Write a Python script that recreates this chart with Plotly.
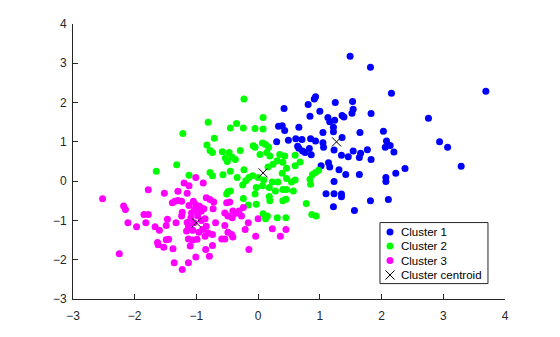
import plotly.graph_objects as go

c1_x = [1.49, 1.82, 2.16, 3.69, 0.93, 0.91, 1.25, 1.53, 1.54, 1.52, 0.42, 0.81, 1.0, 0.84, 1.13, 1.16, 1.24, 1.22, 1.22, 1.36,
        1.39, 1.83, 2.76, 0.33, 0.39, 0.43, 0.66, 1.05, 1.65, 2.03, 0.30, 0.49, 0.61, 0.71, 0.85, 0.93, 1.05, 1.36, 2.08, 2.94,
        3.07, 0.64, 0.66, 0.72, 0.76, 0.83, 0.86, 1.06, 1.23, 1.35, 1.46, 1.54, 1.64, 1.66, 1.77, 1.83, 2.06, 2.14, 2.20, 3.29,
        1.02, 1.14, 1.16, 1.31, 1.42, 1.64, 2.07, 2.07, 2.23, 2.38, 1.23, 1.10, 1.23, 1.35, 1.35, 1.82, 2.11, 1.22, 1.56]
c1_y = [3.18, 2.90, 2.24, 2.29, 2.15, 2.09, 2.00, 2.03, 1.83, 1.73, 1.85, 1.95, 1.78, 1.65, 1.62, 1.51, 1.55, 1.37, 1.26, 1.67,
        1.63, 1.72, 1.60, 1.40, 1.41, 1.29, 1.37, 1.24, 1.24, 1.27, 1.00, 1.04, 1.08, 1.06, 1.08, 1.02, 0.98, 1.11, 1.02, 1.00,
        0.86, 0.89, 0.84, 0.77, 0.73, 0.83, 0.67, 0.86, 0.79, 0.66, 0.62, 0.77, 0.60, 0.71, 0.80, 0.55, 0.86, 0.91, 0.74, 0.38,
        0.39, 0.47, 0.36, 0.29, 0.17, 0.17, 0.09, -0.01, 0.20, 0.32, -0.01, -0.32, -0.32, -0.33, -0.40, -0.50, -0.47, -0.65, -0.75]

c2_x = [-0.23, 0.08, -0.81, -0.35, -0.45, -0.24, -0.05, 0.08, -1.22, -0.71, -0.83, -0.78, -0.74, -0.58, -0.47, -0.53, -0.50,
        -0.42, -0.37, -0.29, -0.08, -0.05, 0.07, 0.12, 0.17, 0.14, 0.03, 0.19, 0.35, 0.43, 0.60, 0.31, 0.40, 0.24, 0.16, 0.46,
        0.60, 0.68, -1.32, -1.65, -1.12, -0.78, -0.74, -0.57, -0.45, -0.23, -0.34, -0.25, -0.15, -0.20, -0.09, 0.00, 0.09, 0.07,
        0.23, 0.32, 0.39, 0.46, 0.54, 0.60, 0.18, 0.28, 0.40, 0.46, 0.57, -0.03, -0.05, -0.03, -0.24, -0.16, -0.49, -0.45, -0.51,
        0.18, 0.19, 0.40, 0.45, 0.08, 0.15, 0.12, 0.31, 0.45, 0.78, 0.84, 0.85, 0.88, 0.93, 0.98, 0.87, 0.94]
c2_y = [2.09, 1.62, 1.50, 1.47, 1.35, 1.35, 1.34, 1.33, 1.21, 1.09, 0.92, 0.78, 0.73, 0.75, 0.73, 0.59, 0.50,
        0.61, 0.55, 0.78, 0.90, 0.86, 0.97, 0.93, 0.86, 0.73, 0.68, 0.64, 0.68, 0.64, 0.66, 0.52, 0.48, 0.43, 0.36, 0.33,
        0.39, 0.49, 0.42, 0.25, 0.15, 0.22, 0.14, 0.16, 0.25, 0.29, 0.09, -0.10, 0.09, 0.01, 0.14, 0.09, 0.03, -0.12,
        -0.02, -0.02, 0.20, 0.07, -0.02, 0.03, -0.16, -0.25, -0.21, -0.21, -0.25, -0.16, -0.33, -0.59, -0.44, -0.61, -0.27, -0.25, -0.33,
        -0.39, -0.50, -0.50, -0.46, -0.83, -0.89, -0.96, -0.93, -0.93, -0.57, 0.05, -0.08, 0.17, 0.22, 0.28, -0.85, -0.89]

c3_x = [-2.52, -1.78, -1.52, -1.20, -1.12, -1.01, -0.89, -1.30, -1.15, -2.18, -2.15, -2.11, -1.97, -2.25, -1.85, -1.78, -1.82,
        -1.67, -1.60, -1.63, -1.62, -1.53, -1.49, -1.45, -1.47, -1.49, -1.38, -1.36, -1.33, -1.39, -1.35, -1.30, -1.24, -1.23,
        -1.24, -1.23, -1.13, -1.13, -1.16, -1.13, -1.10, -1.06, -1.01, -0.99, -1.12, -1.05, -1.01, -0.95, -1.03, -0.97, -0.92,
        -1.08, -1.09, -1.04, -0.92, -0.86, -1.11, -0.84, -0.90, -0.86, -0.81, -0.74, -0.85, -0.79, -0.74, -0.84, -0.78, -0.72,
        -0.73, -0.69, -0.54, -0.51, -0.46, -0.49, -0.54, -0.49, -0.43, -0.59, -0.54, -0.41, -0.41, -0.36, -0.31, -0.27, -0.42,
        -0.24, -0.16, -0.21, -0.15, -0.04, 0.00, 0.23, 0.36, 0.45, -0.98, -1.06, -0.96, -1.15, -0.88]
c3_y = [-0.45, -0.22, -0.31, -0.05, -0.12, 0.09, -0.05, -0.26, -0.31, -0.63, -0.72, -1.06, -1.16, -1.85, -0.85, -0.85, -1.06,
        -1.16, -1.25, -1.56, -1.62, -1.68, -1.49, -1.48, -0.97, -1.13, -1.72, -2.08, -1.06, -0.55, -0.51, -0.49, -0.51, -0.79,
        -0.89, -2.25, -2.08, -1.47, -1.27, -1.16, -1.65, -1.50, -1.93, -1.48, -0.62, -0.51, -0.60, -0.64, -0.72, -0.79, -0.76,
        -0.81, -0.94, -1.06, -1.00, -0.96, -1.15, -1.15, -1.23, -1.40, -1.32, -1.36, -1.74, -1.91, -1.64, -0.42, -0.47, -0.53,
        -0.70, -1.06, -0.81, -0.55, -0.53, -0.89, -1.13, -1.30, -1.36, -1.47, -1.47, -1.42, -0.76, -0.82, -0.76, -0.89, -0.93,
        -0.67, -1.06, -1.23, -1.74, -1.40, -0.96, -1.21, -1.40, -1.23, -0.88, -1.25, -1.30, -1.05, -0.70]

centroid_x = [1.27, 0.08, -1.00]
centroid_y = [1.00, 0.21, -1.06]

names = ["Cluster 1", "Cluster 2", "Cluster 3"]
legend_labels = ["Cluster 1", "Cluster 2", "Cluster 3", "Cluster centroid"]
colors = ["#0000FF", "#00FF00", "#FF00FF"]

FONT = "Liberation Sans, Arial, sans-serif"
TXT = "#262626"

fig = go.Figure()
for xs, ys, nm, col in zip([c1_x, c2_x, c3_x], [c1_y, c2_y, c3_y], names, colors):
    fig.add_trace(go.Scatter(x=xs, y=ys, mode="markers", name=nm, showlegend=False,
                             marker=dict(color=col, size=7, line=dict(width=0))))
fig.add_trace(go.Scatter(x=centroid_x, y=centroid_y, mode="markers", name="Cluster centroid", showlegend=False,
                         marker=dict(symbol="x-thin", size=9, color="black",
                                     line=dict(color="black", width=1))))

# custom compact legend (MATLAB-style), drawn on an overlay axis spanning the plot area
leg_x0, leg_x1, leg_y0, leg_y1 = 0.7106, 0.9606, 0.056, 0.278
leg_rows = [0.2436, 0.1927, 0.1400, 0.0873]
leg_mx, leg_tx = 0.7338, 0.7535
fig.add_shape(type="rect", xref="x2", yref="y2", x0=leg_x0, x1=leg_x1, y0=leg_y0, y1=leg_y1,
              line=dict(color=TXT, width=1), fillcolor="white", layer="below")
for i, col in enumerate(colors):
    fig.add_trace(go.Scatter(x=[leg_mx], y=[leg_rows[i]], xaxis="x2", yaxis="y2", mode="markers",
                             showlegend=False, hoverinfo="skip",
                             marker=dict(color=col, size=7, line=dict(width=0))))
fig.add_trace(go.Scatter(x=[leg_mx], y=[leg_rows[3]], xaxis="x2", yaxis="y2", mode="markers",
                         showlegend=False, hoverinfo="skip",
                         marker=dict(symbol="x-thin", size=9, color="black", line=dict(color="black", width=1))))
for lab, ry in zip(legend_labels, leg_rows):
    fig.add_annotation(x=leg_tx, y=ry, xref="x2", yref="y2", text=lab, showarrow=False,
                       xanchor="left", yanchor="middle", font=dict(family=FONT, size=11.5, color="#000000"))

axis_common = dict(range=[-3, 4], dtick=1, tick0=-3, showgrid=False, zeroline=False,
                   showline=True, linecolor=TXT, linewidth=1, ticks="inside",
                   ticklen=5, tickcolor=TXT, tickfont=dict(family=FONT, size=12, color=TXT),
                   mirror=False)
fig.update_layout(
    width=560, height=337,
    margin=dict(l=73, r=55, t=24, b=38),
    paper_bgcolor="white", plot_bgcolor="white",
    xaxis=dict(axis_common, ticklabelstandoff=6),
    yaxis=dict(axis_common, ticklabelstandoff=3),
    xaxis2=dict(range=[0, 1], overlaying="x", visible=False, fixedrange=True),
    yaxis2=dict(range=[0, 1], overlaying="y", visible=False, fixedrange=True),
    showlegend=False,
)
fig.write_html("out.html")
